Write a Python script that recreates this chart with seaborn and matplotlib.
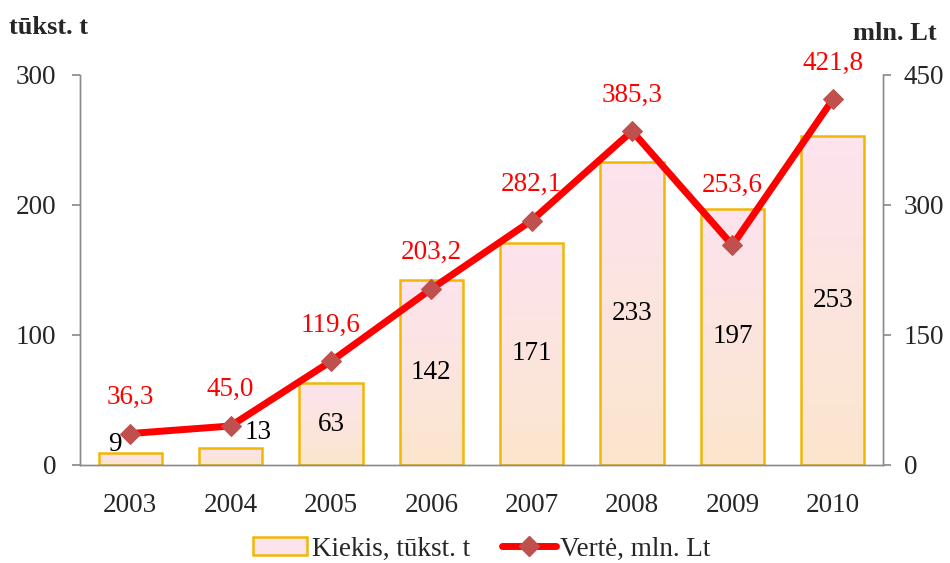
import numpy as np
import pandas as pd
import matplotlib
matplotlib.use("Agg")
import matplotlib.pyplot as plt
import seaborn as sns
from matplotlib.colors import LinearSegmentedColormap
from matplotlib.lines import Line2D
from matplotlib.patches import Patch

years = ["2003", "2004", "2005", "2006", "2007", "2008", "2009", "2010"]
kiekis = [9, 13, 63, 142, 171, 233, 197, 253]
verte = [36.3, 45.0, 119.6, 203.2, 282.1, 385.3, 253.6, 421.8]
left_ticks = [0, 100, 200, 300]
right_ticks = [0, 150, 300, 450]

sns.set_theme(style="white")
plt.rcParams['font.family'] = ['Liberation Serif', 'DejaVu Serif']

fig = plt.figure(figsize=(9.5, 5.63), dpi=100)
ax = fig.add_axes([80/950, 1-465/563, 803/950, 390/563])

df = pd.DataFrame({"year": years, "kiekis": kiekis, "verte": verte})
sns.barplot(data=df, x="year", y="kiekis", ax=ax, width=0.63,
            color="#fce4ec", edgecolor="#f2b705", linewidth=1.8, saturation=1)

ax.set_ylim(0, 300)
ax.set_xlim(-0.5, len(years) - 0.5)

# gradient fill inside bars
cmap = LinearSegmentedColormap.from_list("g", ["#fbe6cd", "#fde3ee"])
grad = np.linspace(0, 1, 256).reshape(-1, 1)
for p in list(ax.patches):
    x0, y0 = p.get_x(), p.get_y()
    w, h = p.get_width(), p.get_height()
    im = ax.imshow(grad, cmap=cmap, aspect="auto", origin="lower",
                   extent=[x0, x0 + w, y0, y0 + h], zorder=p.get_zorder() - 0.1)
    im.set_clip_path(p)
    p.set_facecolor("none")
ax.set_xlim(-0.5, len(years) - 0.5)
ax.set_ylim(0, 300)

ax2 = ax.twinx()
xs = np.arange(len(years))
sns.lineplot(x=xs, y=verte, ax=ax2, color="#ff0000", linewidth=5, marker="D",
             markersize=10.5, markerfacecolor="#c0504d", markeredgecolor="#c0504d")
ax2.set_ylim(0, 450)
ax2.set_xlim(-0.5, len(years) - 0.5)

# bar labels
fs = 19.5
small_offsets = {0: (-11, 6), 1: (20, 11)}
for i, v in enumerate(kiekis):
    if i in small_offsets:
        dx, dy = small_offsets[i]
        ax.annotate(str(v), (i, v), xytext=(dx, dy), textcoords="offset points",
                    ha="center", va="center", fontsize=fs, color="black")
    else:
        ax.text(i, v / 2, str(v), ha="center", va="center", fontsize=fs, color="black")

for i, v in enumerate(verte):
    lab = f"{v:.1f}".replace(".", ",")
    dy = 43 if i == 6 else 26
    ax2.annotate(lab, (i, v), xytext=(0, dy), textcoords="offset points",
                 ha="center", va="center", fontsize=fs, color="#ff0000")

# axes styling
for a in (ax, ax2):
    a.spines["top"].set_visible(False)
    for s in ("left", "right", "bottom"):
        a.spines[s].set_color("#8c8c8c")
        a.spines[s].set_linewidth(1.0)
    a.grid(False)
    a.set_xlabel("")
    a.set_ylabel("")

ax.set_yticks(left_ticks)
ax.set_yticklabels([str(t) for t in left_ticks], fontsize=fs)
ax2.set_yticks(right_ticks)
ax2.set_yticklabels([str(t) for t in right_ticks], fontsize=fs)
ax.set_xticks(xs)
ax.set_xticklabels(years, fontsize=fs)
ax.tick_params(axis="y", which="both", left=True, length=6, color="#8c8c8c", pad=11)
ax2.tick_params(axis="y", which="both", right=True, length=6, color="#8c8c8c", pad=9)
ax.tick_params(axis="x", bottom=False, pad=14)
ax2.tick_params(axis="x", bottom=False, top=False, labelbottom=False)
ax.set_zorder(1)
ax2.set_zorder(2)
ax.patch.set_visible(False)

fig.text(9/950, 1-28/563, "tūkst. t", fontsize=19, fontweight="bold", ha="left", va="center")
fig.text(937/950, 1-34/563, "mln. Lt", fontsize=19, fontweight="bold", ha="right", va="center")

handles = [Patch(facecolor="#fce4ec", edgecolor="#f2b705", linewidth=1.8),
           Line2D([0], [0], color="#ff0000", linewidth=5, marker="D", markersize=10.5,
                  markerfacecolor="#c0504d", markeredgecolor="#c0504d")]
fig.legend(handles, ["Kiekis, tūkst. t", "Vertė, mln. Lt"], loc="center",
           bbox_to_anchor=(482/950, 1-549/563), ncol=2, frameon=False, fontsize=fs,
           handlelength=2.0, handleheight=0.6, columnspacing=1.2, handletextpad=0.15)

fig.savefig("out.png", dpi=100)
